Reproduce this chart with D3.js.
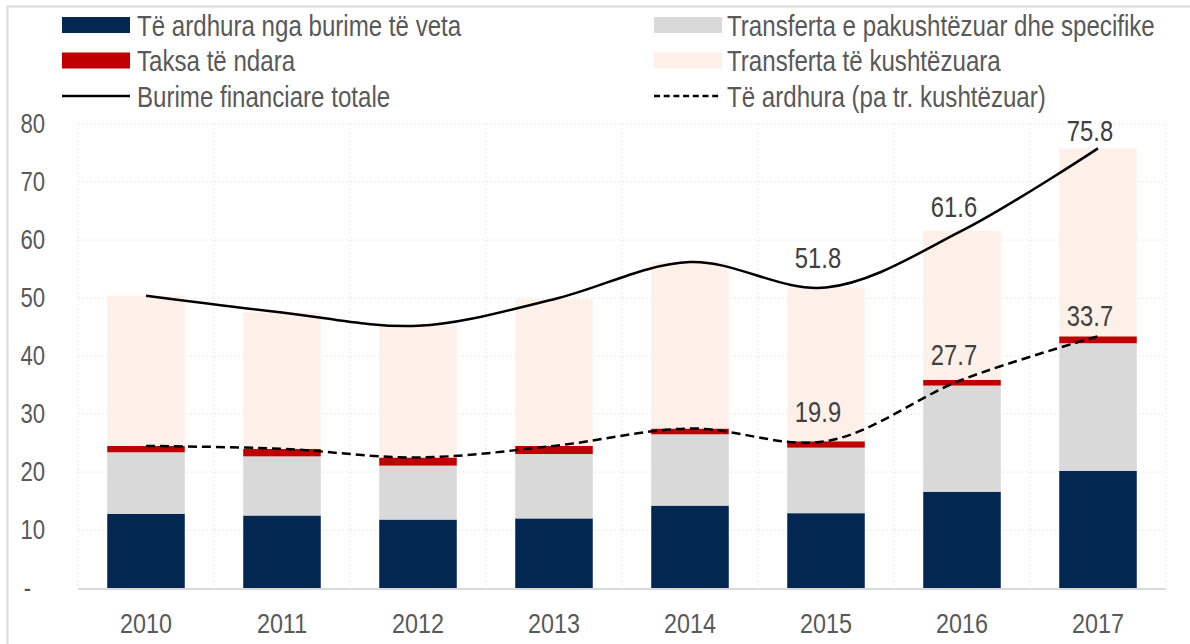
<!DOCTYPE html>
<html>
<head>
<meta charset="utf-8">
<script src="https://cdn.jsdelivr.net/npm/d3@7"></script>
<style>
  html, body { margin: 0; padding: 0; background: #fff; }
  svg { display: block; font-family: "Liberation Sans", Arial, sans-serif; }
</style>
</head>
<body>
<div id="chart"></div>
<script>
// data (billion ALL)
const years = ["2010", "2011", "2012", "2013", "2014", "2015", "2016", "2017"];
const ownRevenue = [12.8, 12.5, 11.8, 12.0, 14.2, 12.9, 16.6, 20.2];
const unconditional = [10.6, 10.2, 9.3, 11.1, 12.3, 11.3, 18.3, 22.0];
const sharedTaxes = [1.1, 1.3, 1.4, 1.4, 1.0, 1.1, 1.0, 1.2];
const conditional = [25.9, 23.5, 22.7, 25.3, 28.7, 26.5, 25.7, 32.4];
const totalResources = [50.4, 47.5, 45.2, 49.8, 56.2, 51.8, 61.6, 75.8];
const revenueNoCond = [24.5, 24.0, 22.5, 24.5, 27.5, 25.3, 35.9, 43.4];
const yTicks = [0, 10, 20, 30, 40, 50, 60, 70, 80];
const totalLabels = [{year: "2015", text: "51.8"}, {year: "2016", text: "61.6"}, {year: "2017", text: "75.8"}];
const revenueLabels = [{year: "2015", text: "19.9"}, {year: "2016", text: "27.7"}, {year: "2017", text: "33.7"}];

const W = 1190, H = 644;
const margin = {top: 124, right: 24, bottom: 56, left: 78};
const textColor = "#595959";
const SQ = 0.82; // squeeze to get a narrow face out of Liberation Sans

const svg = d3.select("#chart").append("svg")
  .attr("width", W).attr("height", H);

// narrow text: keep the anchor where it was, squeeze the glyphs
const narrow = (sel, size) => sel
  .attr("font-size", size)
  .attr("font-family", null)
  .attr("x", function() { return (+d3.select(this).attr("x") || 0) / SQ; })
  .attr("transform", `scale(${SQ},1)`);

// frame round the picture
svg.append("rect")
  .attr("x", 7.5).attr("y", 6.5)
  .attr("width", W).attr("height", H)
  .attr("fill", "none").attr("stroke", "#d9d9d9").attr("stroke-width", 2);

const x = d3.scaleBand().domain(years).range([margin.left, W - margin.right]).paddingInner(0.43).paddingOuter(0.215);
const y = d3.scaleLinear().domain([0, 80]).range([H - margin.bottom, margin.top]);
const step = x.step();

// ****************** grid ***************************
const grid = svg.append("g");
grid.selectAll(".hg").data(yTicks.filter(d => d > 0)).enter().append("line")
  .attr("x1", margin.left).attr("x2", W - margin.right)
  .attr("y1", d => y(d)).attr("y2", d => y(d))
  .attr("stroke", "#e8e8e8").attr("stroke-dasharray", "2,2");
const edges = years.map(d => x(d) - (step - x.bandwidth()) / 2).concat([W - margin.right]);
grid.selectAll(".vg").data(edges).enter().append("line")
  .attr("x1", d => d).attr("x2", d => d)
  .attr("y1", y(80)).attr("y2", y(0))
  .attr("stroke", "#e8e8e8").attr("stroke-dasharray", "2,2");

// ****************** stacked bars ***************************
const rows = years.map((yr, i) => ({
  year: yr, own: ownRevenue[i], unc: unconditional[i], tax: sharedTaxes[i], cond: conditional[i]
}));
const keys = ["own", "unc", "tax", "cond"];
const colors = {own: "#022851", unc: "#d9d9d9", tax: "#c00000", cond: "#fdf0e9"};
const stacked = d3.stack().keys(keys)(rows);

svg.append("g").selectAll("g").data(stacked).enter().append("g")
  .attr("fill", s => colors[s.key])
  .selectAll("rect").data(s => s).enter().append("rect")
  .attr("x", d => x(d.data.year))
  .attr("width", x.bandwidth())
  .attr("y", d => y(d[1]))
  .attr("height", d => y(d[0]) - y(d[1]));

// baseline
svg.append("line")
  .attr("x1", margin.left).attr("x2", W - margin.right)
  .attr("y1", y(0) + 1).attr("y2", y(0) + 1)
  .attr("stroke", "#d9d9d9").attr("stroke-width", 2);

// ****************** lines ***************************
const cx = d => x(d) + x.bandwidth() / 2;
const line = d3.line().x((d, i) => cx(years[i])).y(d => y(d)).curve(d3.curveCatmullRom.alpha(0.5));

svg.append("path").datum(totalResources)
  .attr("d", line).attr("fill", "none")
  .attr("stroke", "#000").attr("stroke-width", 2.5);
svg.append("path").datum(revenueNoCond)
  .attr("d", line).attr("fill", "none")
  .attr("stroke", "#000").attr("stroke-width", 2.5).attr("stroke-dasharray", "9,5");

// ****************** labels ***************************
const nudge = {"51.8": 20, "61.6": 14, "75.8": 7, "19.9": 19, "27.7": 15, "33.7": 10};
const addLabels = (list, values) => {
  svg.append("g").selectAll("text").data(list).enter().append("text")
    .attr("x", d => cx(d.year) - 8)
    .attr("y", d => y(values[years.indexOf(d.year)]) - nudge[d.text])
    .attr("text-anchor", "middle")
    .attr("fill", "#404040")
    .text(d => d.text)
    .call(narrow, 29);
};
addLabels(totalLabels, totalResources);
addLabels(revenueLabels, revenueNoCond);

// ****************** axes ***************************
const yAxis = svg.append("g")
  .attr("transform", `translate(${margin.left - 33},0)`)
  .call(d3.axisLeft(y).tickValues(yTicks).tickSize(0).tickPadding(0).tickFormat(d => d === 0 ? "-" : d));
yAxis.select(".domain").remove();
yAxis.selectAll("text")
  .attr("fill", textColor)
  .attr("x", d => d === 0 ? -14 : 0)
  .call(narrow, 27);

const xAxis = svg.append("g")
  .attr("transform", `translate(0,${y(0)})`)
  .call(d3.axisBottom(x).tickSize(0).tickPadding(25));
xAxis.select(".domain").remove();
xAxis.selectAll("text")
  .attr("fill", textColor)
  .call(narrow, 28.5);

// ****************** legend ***************************
const legendItems = [
  {label: "Të ardhura nga burime të veta", type: "box", color: colors.own, col: 0, row: 0},
  {label: "Taksa të ndara", type: "box", color: colors.tax, col: 0, row: 1},
  {label: "Burime financiare totale", type: "line", col: 0, row: 2},
  {label: "Transferta e pakushtëzuar dhe specifike", type: "box", color: colors.unc, col: 1, row: 0},
  {label: "Transferta të kushtëzuara", type: "box", color: colors.cond, col: 1, row: 1},
  {label: "Të ardhura (pa tr. kushtëzuar)", type: "dash", col: 1, row: 2}
];
const legend = svg.append("g");
const li = legend.selectAll("g").data(legendItems).enter().append("g")
  .attr("transform", d => `translate(${d.col === 0 ? 62 : 654},${25 + d.row * 35.5})`);
li.filter(d => d.type === "box").append("rect")
  .attr("x", 0).attr("y", -8).attr("width", 68).attr("height", 16)
  .attr("fill", d => d.color);
li.filter(d => d.type !== "box").append("line")
  .attr("x1", 0).attr("x2", 68).attr("y1", 0).attr("y2", 0)
  .attr("stroke", "#000").attr("stroke-width", 2.5)
  .attr("stroke-dasharray", d => d.type === "dash" ? "6,3.7" : null);
li.append("text")
  .attr("x", d => d.col === 0 ? 75 : 73).attr("y", 0).attr("dy", "0.36em")
  .attr("fill", textColor)
  .text(d => d.label)
  .call(narrow, 29.4);
</script>
</body>
</html>
